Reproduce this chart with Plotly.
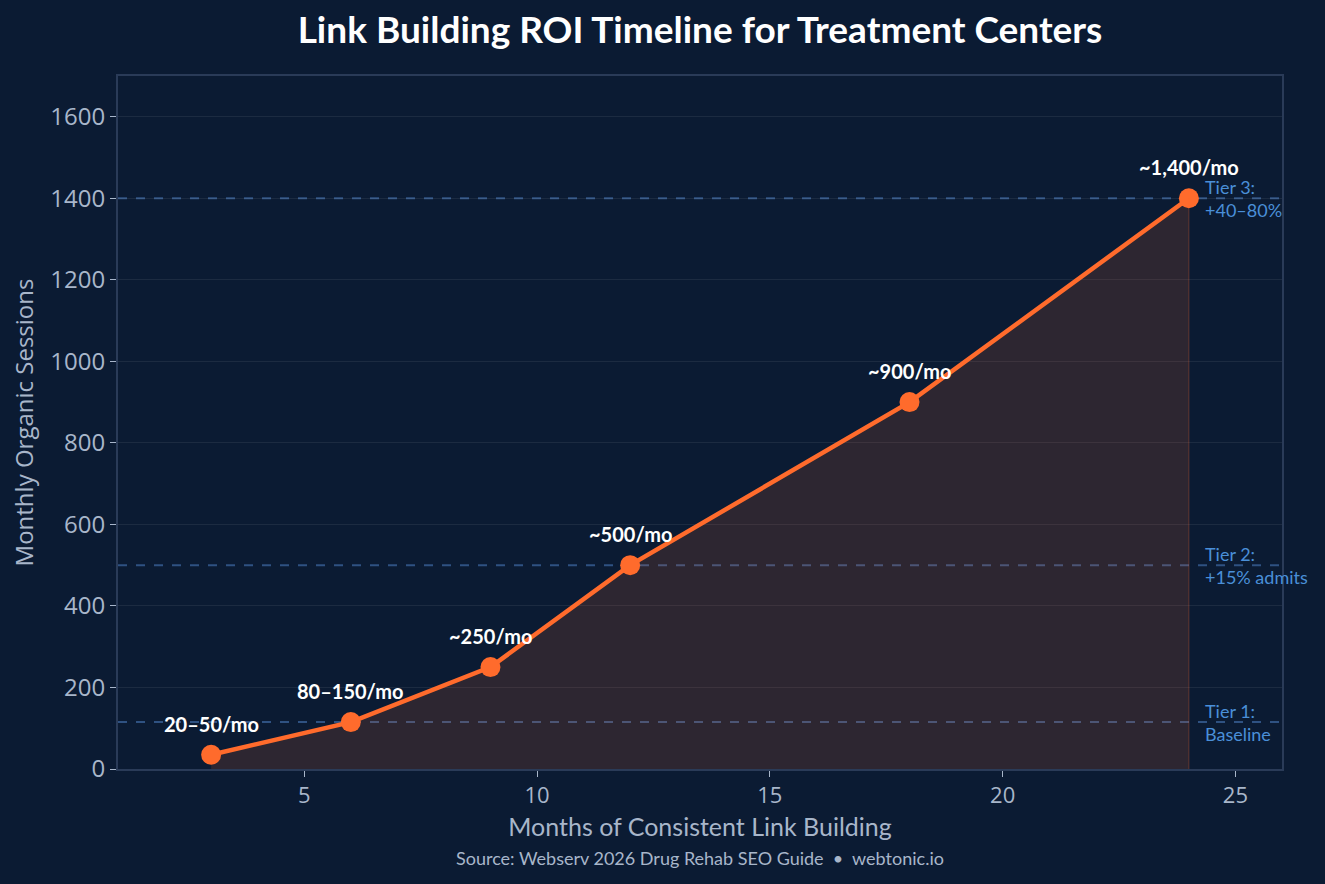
import plotly.graph_objects as go

months = [3, 6, 9, 12, 18, 24]
sessions = [35, 115, 250, 500, 900, 1400]
point_labels = ["20–50/mo", "80–150/mo", "~250/mo", "~500/mo", "~900/mo", "~1,400/mo"]
tier_values = [115, 500, 1400]
tier_labels = ["Tier 1:<br>Baseline", "Tier 2:<br>+15% admits", "Tier 3:<br>+40–80%"]

BG = "#0b1b33"
ORANGE = "#ff6b2c"
TIER_LINE = "#2f5282"
TIER_TEXT = "#4a8fd8"
AXIS_TEXT = "#a8b6ca"

fig = go.Figure()

fig.add_trace(go.Scatter(
    x=months, y=sessions, mode="lines+markers",
    line=dict(color=ORANGE, width=4.5),
    marker=dict(color=ORANGE, size=20),
    fill="tozeroy", fillcolor="rgba(255,107,44,0.14)",
    hoverinfo="x+y", showlegend=False,
))

for tv, tl in zip(tier_values, tier_labels):
    fig.add_shape(type="line", xref="paper", x0=0, x1=1, yref="y", y0=tv, y1=tv,
                  line=dict(color=TIER_LINE, width=2, dash="dash"), layer="below")
    fig.add_annotation(x=24.3, y=tv, xref="x", yref="y", text=tl, showarrow=False,
                       xanchor="left", yanchor="middle", align="left",
                       font=dict(family="Lato", size=18, color=TIER_TEXT))

fig.add_shape(type="line", x0=months[-1], x1=months[-1], y0=0, y1=sessions[-1],
              xref="x", yref="y", line=dict(color="rgba(255,107,44,0.25)", width=1.2))

for mx, sy, lbl in zip(months, sessions, point_labels):
    fig.add_annotation(x=mx, y=sy, text="<b>" + lbl + "</b>", showarrow=False,
                       yanchor="bottom", yshift=17,
                       font=dict(family="Lato", size=20, color="#ffffff"))

fig.add_annotation(x=0.5, y=-0.128, xref="paper", yref="paper",
                   text="Source: Webserv 2026 Drug Rehab SEO Guide  •  webtonic.io",
                   showarrow=False, xanchor="center", yanchor="middle",
                   font=dict(family="Lato", size=18, color="#a8b6ca"))

fig.update_layout(
    width=1325, height=884,
    paper_bgcolor=BG, plot_bgcolor=BG,
    margin=dict(l=118, r=43, t=76, b=115),
    title=dict(text="<b>Link Building ROI Timeline for Treatment Centers</b>",
               x=0.5, xref="paper", xanchor="center", y=0.966, yanchor="middle",
               font=dict(family="Lato", size=37, color="#ffffff")),
    xaxis=dict(range=[1, 26], tickvals=[5, 10, 15, 20, 25],
               showgrid=False, zeroline=False,
               showline=True, linecolor="#2a3b58", linewidth=2, mirror=True,
               ticks="outside", ticklen=6, tickcolor="#a8b6ca", tickwidth=1,
               tickfont=dict(family="Open Sans", size=22, color=AXIS_TEXT),
               title=dict(text="Months of Consistent Link Building", standoff=10,
                          font=dict(family="Lato", size=25, color=AXIS_TEXT))),
    yaxis=dict(range=[0, 1700], tickvals=[0, 200, 400, 600, 800, 1000, 1200, 1400, 1600],
               showgrid=True, gridcolor="rgba(255,255,255,0.07)", gridwidth=1, zeroline=False,
               showline=True, linecolor="#2a3b58", linewidth=2, mirror=True,
               ticks="outside", ticklen=6, tickcolor="#a8b6ca", tickwidth=1,
               tickfont=dict(family="Open Sans", size=24, color=AXIS_TEXT),
               title=dict(text="Monthly Organic Sessions", standoff=10,
                          font=dict(family="Open Sans", size=24, color=AXIS_TEXT))),
)

fig.write_html("out.html")
